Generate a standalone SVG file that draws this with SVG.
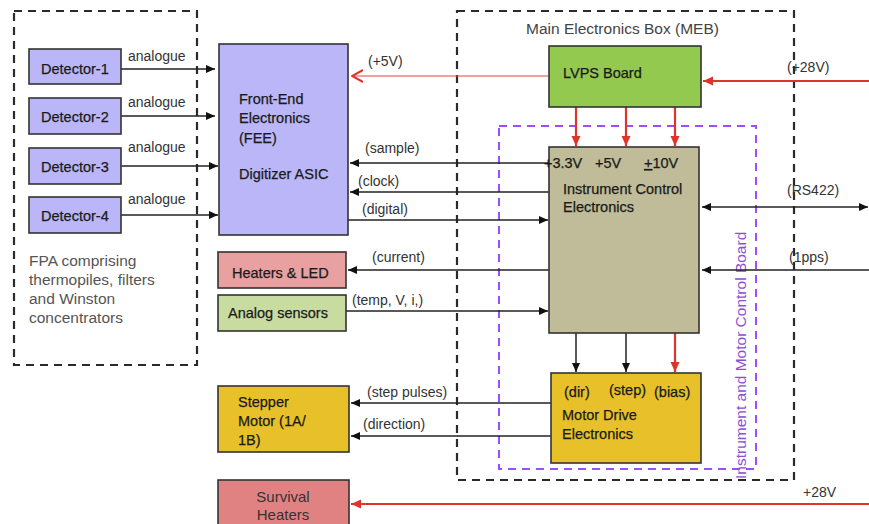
<svg xmlns="http://www.w3.org/2000/svg" width="869" height="524" viewBox="0 0 869 524">
<style>
.box{stroke:#333;stroke-width:1.6}
.t{font-family:"Liberation Sans",Arial,sans-serif;font-size:14.5px;fill:#1a1a1a;stroke:#1a1a1a;stroke-width:0.25}
.l{font-family:"Liberation Sans",Arial,sans-serif;font-size:14px;fill:#333}
.g{font-family:"Liberation Sans",Arial,sans-serif;font-size:15.5px;fill:#555}
.dash{fill:none;stroke:#2a2a2a;stroke-width:2.2;stroke-dasharray:8 6}
.pdash{fill:none;stroke:#9b4dff;stroke-width:2;stroke-dasharray:8 6}
.k{stroke:#222;stroke-width:1.5;fill:none}
.r{stroke:#e0342a;stroke-width:2.2;fill:none}
.rt{stroke:#e4463c;stroke-width:1.1;fill:none}
</style>
<defs>
<marker id="ak" markerUnits="userSpaceOnUse" markerWidth="10" markerHeight="10" refX="9" refY="5" orient="auto-start-reverse"><path d="M0,1 L9,5 L0,9 Z" fill="#111"/></marker>
<marker id="ar" markerUnits="userSpaceOnUse" markerWidth="12" markerHeight="12" refX="10" refY="6" orient="auto-start-reverse"><path d="M0,1.5 L10,6 L0,10.5 Z" fill="#e0342a"/></marker>
<marker id="arv" markerUnits="userSpaceOnUse" markerWidth="12" markerHeight="14" refX="11" refY="7" orient="auto"><path d="M0,1 L11,7 L0,13" fill="none" stroke="#e0342a" stroke-width="2"/></marker>
</defs>
<rect width="869" height="524" fill="#fff"/>

<g id="fpa-boundary">
<rect class="dash" x="14" y="11" width="183" height="354"/>
<text class="g"><tspan x="29" y="266">FPA comprising</tspan><tspan x="29" y="285">thermopiles, filters</tspan><tspan x="29" y="304">and Winston</tspan><tspan x="29" y="323">concentrators</tspan></text>
</g>

<g id="meb-boundary">
<rect class="dash" x="457" y="11" width="337" height="469"/>
<text x="526" y="34" font-family="Liberation Sans, Arial, sans-serif" font-size="15.5" fill="#444">Main  Electronics Box (MEB)</text>
</g>

<g id="imcb-boundary">
<rect class="pdash" x="499" y="126" width="257" height="343"/>
<text transform="translate(746,479) rotate(-90)" font-family="Liberation Sans, Arial, sans-serif" font-size="15.5" fill="#8a4fd6">Instrument and Motor Control Board</text>
</g>

<g id="connectors">
<line class="k" x1="121" y1="69" x2="215" y2="69" marker-end="url(#ak)"/>
<line class="k" x1="121" y1="116" x2="215" y2="116" marker-end="url(#ak)"/>
<line class="k" x1="121" y1="166" x2="218" y2="166" marker-end="url(#ak)"/>
<line class="k" x1="121" y1="215" x2="218" y2="215" marker-end="url(#ak)"/>
<text class="l" x="128" y="61">analogue</text>
<text class="l" x="128" y="107">analogue</text>
<text class="l" x="128" y="152">analogue</text>
<text class="l" x="128" y="204">analogue</text>

<line class="rt" x1="549" y1="76" x2="352" y2="76" marker-end="url(#arv)"/>
<text class="l" x="368" y="66">(+5V)</text>

<line class="r" x1="869" y1="81" x2="703" y2="81" marker-end="url(#ar)"/>
<text class="l" x="787" y="72">(+28V)</text>

<line class="r" x1="576" y1="107" x2="576" y2="146" stroke-width="1.4" marker-end="url(#ar)"/>
<line class="r" x1="626" y1="107" x2="626" y2="146" stroke-width="1.4" marker-end="url(#ar)"/>
<line class="r" x1="675" y1="107" x2="675" y2="146" stroke-width="1.4" marker-end="url(#ar)"/>

<line class="k" x1="549" y1="163" x2="350" y2="163" marker-end="url(#ak)"/>
<text class="l" x="365" y="153">(sample)</text>
<line class="k" x1="549" y1="192" x2="350" y2="192" marker-end="url(#ak)"/>
<text class="l" x="358" y="186">(clock)</text>
<line class="k" x1="348" y1="220" x2="548" y2="220" marker-end="url(#ak)"/>
<text class="l" x="362" y="214">(digital)</text>

<line class="k" x1="702" y1="207" x2="868" y2="207" marker-start="url(#ak)" marker-end="url(#ak)"/>
<text class="l" x="787" y="195">(RS422)</text>
<line class="k" x1="869" y1="270" x2="702" y2="270" marker-end="url(#ak)"/>
<text class="l" x="789" y="262">(1pps)</text>

<line class="k" x1="549" y1="270" x2="348" y2="270" marker-end="url(#ak)"/>
<text class="l" x="372" y="262">(current)</text>
<line class="k" x1="346" y1="311" x2="548" y2="311" marker-end="url(#ak)"/>
<text class="l" x="352" y="305">(temp, V, i,)</text>

<line class="k" x1="576" y1="333" x2="576" y2="372" marker-end="url(#ak)"/>
<line class="k" x1="626" y1="333" x2="626" y2="372" marker-end="url(#ak)"/>
<line class="r" x1="675" y1="333" x2="675" y2="372" stroke-width="1.4" marker-end="url(#ar)"/>

<line class="k" x1="551" y1="403" x2="351" y2="403" marker-end="url(#ak)"/>
<text class="l" x="367" y="397">(step pulses)</text>
<line class="k" x1="551" y1="436" x2="351" y2="436" marker-end="url(#ak)"/>
<text class="l" x="363" y="429">(direction)</text>

<line class="r" x1="869" y1="504" x2="351" y2="504" marker-end="url(#ar)"/>
<text class="l" x="803" y="497">+28V</text>
</g>

<g id="detector-1"><rect class="box" x="29" y="49" width="92" height="35" fill="#bbb6f7"/><text class="t" x="41" y="74">Detector-1</text></g>
<g id="detector-2"><rect class="box" x="29" y="98" width="92" height="36" fill="#bbb6f7"/><text class="t" x="41" y="122">Detector-2</text></g>
<g id="detector-3"><rect class="box" x="29" y="148" width="92" height="36" fill="#bbb6f7"/><text class="t" x="41" y="172">Detector-3</text></g>
<g id="detector-4"><rect class="box" x="29" y="197" width="92" height="36" fill="#bbb6f7"/><text class="t" x="41" y="221">Detector-4</text></g>

<g id="fee"><rect class="box" x="219" y="44" width="129" height="191" fill="#bbb6f7"/>
<text class="t"><tspan x="239" y="104">Front-End</tspan><tspan x="239" y="123">Electronics</tspan><tspan x="239" y="143">(FEE)</tspan><tspan x="239" y="179">Digitizer ASIC</tspan></text></g>

<g id="lvps"><rect class="box" x="549" y="46" width="152" height="61" fill="#93c94e"/><text class="t" x="563" y="78">LVPS Board</text></g>

<g id="ice"><rect class="box" x="549" y="147" width="150" height="186" fill="#c0bb98"/>
<text class="t" x="544" y="168">+3.3V</text><text class="t" x="595" y="168">+5V</text><text class="t" x="644" y="168"><tspan text-decoration="underline">+</tspan>10V</text>
<text class="t"><tspan x="563" y="194">Instrument Control</tspan><tspan x="563" y="212">Electronics</tspan></text></g>

<g id="mde"><rect class="box" x="551" y="373" width="150" height="90" fill="#e8c12a"/>
<text class="t" x="564" y="397">(dir)</text><text class="t" x="609" y="395">(step)</text><text class="t" x="654" y="397">(bias)</text>
<text class="t"><tspan x="562" y="420">Motor Drive</tspan><tspan x="562" y="439">Electronics</tspan></text></g>

<g id="heaters-led"><rect class="box" x="218" y="252" width="128" height="36" fill="#e8a0a0"/><text class="t" x="232" y="278">Heaters &amp; LED</text></g>
<g id="analog-sensors"><rect class="box" x="218" y="295" width="128" height="36" fill="#c8dca2"/><text class="t" x="228" y="318">Analog sensors</text></g>

<g id="stepper-motor"><rect class="box" x="218" y="386" width="131" height="66" fill="#e8c12a"/>
<text class="t"><tspan x="238" y="407">Stepper</tspan><tspan x="238" y="426">Motor (1A/</tspan><tspan x="238" y="445">1B)</tspan></text></g>

<g id="survival-heaters"><rect class="box" x="218" y="480" width="131" height="50" fill="#e08282"/>
<text font-family="Liberation Sans, Arial, sans-serif" font-size="15" fill="#333" text-anchor="middle"><tspan x="283" y="502">Survival</tspan><tspan x="283" y="520">Heaters</tspan></text></g>
</svg>
